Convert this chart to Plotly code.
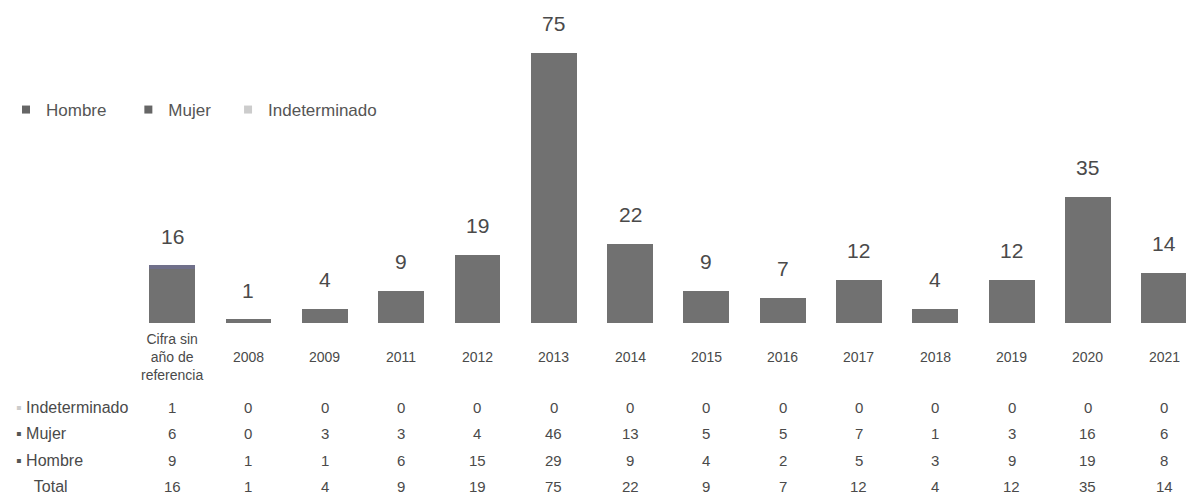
import plotly.graph_objects as go

categories = ["Cifra sin año de referencia", "2008", "2009", "2011", "2012", "2013", "2014",
              "2015", "2016", "2017", "2018", "2019", "2020", "2021"]
cat_labels = ["Cifra sin<br>año de<br>referencia", "2008", "2009", "2011", "2012", "2013", "2014",
              "2015", "2016", "2017", "2018", "2019", "2020", "2021"]
hombre = [9, 1, 1, 6, 15, 29, 9, 4, 2, 5, 3, 9, 19, 8]
mujer = [6, 0, 3, 3, 4, 46, 13, 5, 5, 7, 1, 3, 16, 6]
indeterminado = [1, 0, 0, 0, 0, 0, 0, 0, 0, 0, 0, 0, 0, 0]
total = [16, 1, 4, 9, 19, 75, 22, 9, 7, 12, 4, 12, 35, 14]

FONT = "Liberation Sans"
C_BAR = "#717171"
C_I = "#70708a"
TXT = "#4a4a4a"

W, H = 1186, 493  # page has an 8px body margin

fig = go.Figure()
fig.add_trace(go.Bar(x=categories, y=hombre, name="Hombre", showlegend=False,
                     marker=dict(color=C_BAR, line=dict(color=C_BAR, width=0))))
fig.add_trace(go.Bar(x=categories, y=mujer, name="Mujer", showlegend=False,
                     marker=dict(color=C_BAR, line=dict(color=C_BAR, width=0))))
fig.add_trace(go.Bar(x=categories, y=indeterminado, name="Indeterminado", showlegend=False,
                     marker=dict(color=C_I, line=dict(color=C_I, width=0))))
# legend entries with small square symbols
for nm, col in [("Hombre" + "&nbsp;" * 4, "#666666"), ("Mujer" + "&nbsp;" * 3, "#666666"),
                ("Indeterminado", "#cccccc")]:
    fig.add_trace(go.Scatter(x=[None], y=[None], mode="markers", name=nm,
                             marker=dict(symbol="square", size=8, color=col)))

ann = []
# totals above bars (x given as category index on the category axis)
for i, t in enumerate(total):
    ann.append(dict(x=i, y=t, xref="x", yref="y", text=str(t), showarrow=False,
                    yanchor="middle", yshift=29, font=dict(family=FONT, size=21, color=TXT)))

# category labels
for i, lab in enumerate(cat_labels):
    ann.append(dict(x=i, y=0, xref="x", yref="paper", text=lab, showarrow=False,
                    yanchor="middle", yshift=-34, font=dict(family=FONT, size=14, color=TXT)))

rows = [
    ("<span style='color:#cccccc'>▪</span> Indeterminado", indeterminado, -84),
    ("<span style='color:#555'>▪</span> Mujer", mujer, -110),
    ("<span style='color:#555'>▪</span> Hombre", hombre, -137),
    ("&nbsp;&nbsp;&nbsp;&nbsp;Total", total, -163),
]
for label, vals, ys in rows:
    ann.append(dict(x=6 / W, y=0, xref="paper", yref="paper", text=label, showarrow=False,
                    xanchor="left", yanchor="middle", yshift=ys,
                    font=dict(family=FONT, size=16, color=TXT)))
    for i, v in enumerate(vals):
        ann.append(dict(x=i, y=0, xref="x", yref="paper", text=str(v), showarrow=False,
                        yanchor="middle", yshift=ys, font=dict(family=FONT, size=15, color=TXT)))

fig.update_layout(
    width=W, height=H,
    margin=dict(l=0, r=0, t=2, b=178, autoexpand=False),
    barmode="stack", bargap=0.4,
    plot_bgcolor="white", paper_bgcolor="white",
    font=dict(family=FONT, color="#555"),
    xaxis=dict(type="category", domain=[126 / W, 1], range=[-0.5, 13.39],
               showticklabels=False, showgrid=False, zeroline=False, showline=False, ticks=""),
    yaxis=dict(range=[0, 86.9], visible=False),
    legend=dict(orientation="h", x=0, y=(323 - 110) / 313, xanchor="left", yanchor="middle",
                font=dict(family=FONT, size=17, color="#555"), itemwidth=30, indentation=-2,
                traceorder="normal", bgcolor="rgba(0,0,0,0)"),
    annotations=ann,
    showlegend=True,
)

fig.write_html("out.html")
